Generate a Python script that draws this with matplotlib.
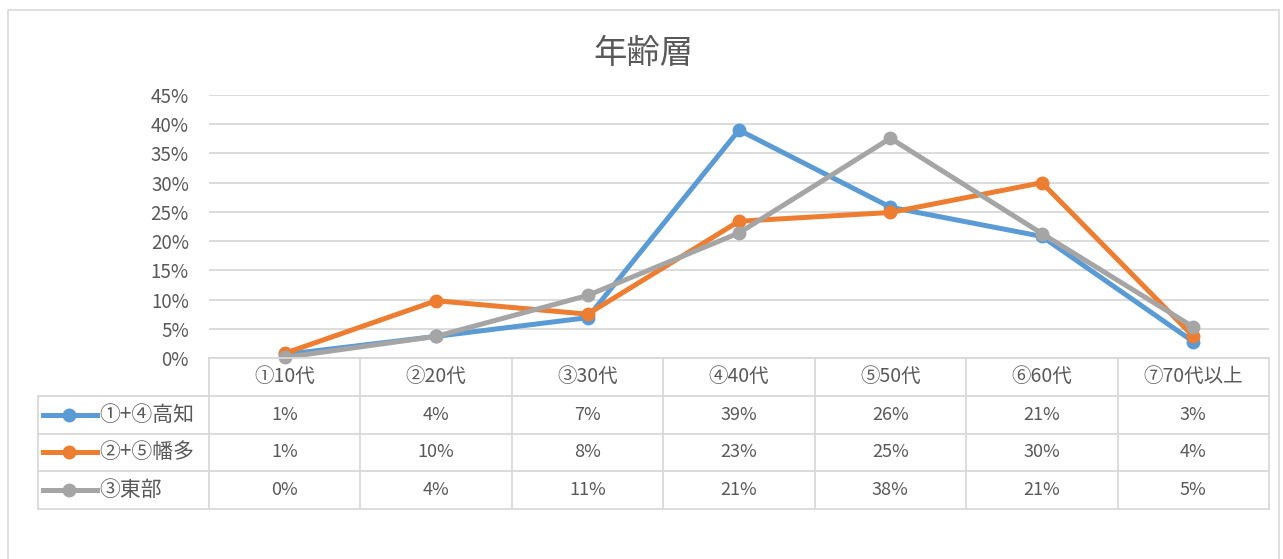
import matplotlib
matplotlib.use("Agg")
import matplotlib.pyplot as plt
from matplotlib.patches import Rectangle

plt.rcParams['font.family'] = ['Noto Sans CJK JP', 'DejaVu Sans']

# ---- data ----
categories = ['①10代', '②20代', '③30代', '④40代', '⑤50代', '⑥60代', '⑦70代以上']
series_names = ['①+④高知', '②+⑤幡多', '③東部']
kochi = [0.6, 3.7, 6.9, 39.0, 25.8, 20.8, 2.8]
hata = [0.8, 9.8, 7.5, 23.4, 24.9, 30.0, 3.7]
tobu = [0.1, 3.7, 10.7, 21.4, 37.6, 21.3, 5.3]
series_values = [kochi, hata, tobu]
colors = ['#5B9BD5', '#ED7D31', '#A5A5A5']
yticks = [0, 5, 10, 15, 20, 25, 30, 35, 40, 45]
title = '年齢層'

W, H = 1283, 559
fig = plt.figure(figsize=(W / 100, H / 100), dpi=100)
TXT = '#595959'
GRID = '#D9D9D9'

def fx(px):
    return px / W

def fy(py):
    return 1 - py / H

# outer chart border
fig.add_artist(Rectangle((fx(8), fy(565)), fx(1279) - fx(8), fy(10) - fy(565),
                         transform=fig.transFigure, fill=False, edgecolor=GRID, lw=1.2))

fig.text(fx(643), fy(54), title, ha='center', va='center', fontsize=24, color=TXT)

# main plot axes
ax = fig.add_axes([fx(209), fy(358), fx(1269) - fx(209), (358 - 95) / H])
ax.set_xlim(-0.5, len(categories) - 0.5)
ax.set_ylim(0, 45)
ax.set_yticks(yticks)
ax.set_yticklabels([f'{t}%' for t in yticks], color=TXT, fontsize=13.5)
ax.tick_params(left=False, bottom=False, labelbottom=False, pad=11)
ax.grid(axis='y', color=GRID, lw=1.3)
ax.set_axisbelow(True)
for s in ax.spines.values():
    s.set_visible(False)
x = list(range(len(categories)))
for vals, c in zip(series_values, colors):
    ax.plot(x, vals, color=c, lw=3.6, marker='o', ms=9, clip_on=False, zorder=3)

# data table
colw = 151.43
left_px = 38
tax = fig.add_axes([fx(left_px), fy(509), fx(1269) - fx(left_px), (509 - 358) / H])
xl = -0.5 - (209 - left_px) / colw
tax.set_xlim(xl, len(categories) - 0.5)
tax.set_ylim(4, 0)
tax.axis('off')

def px2x(px):
    return -0.5 + (px - 209) / colw

lk = dict(color=GRID, lw=1.3, clip_on=False)
tax.plot([-0.5, len(categories) - 0.5], [0, 0], **lk)
for r in range(1, 5):
    tax.plot([xl, len(categories) - 0.5], [r, r], **lk)
tax.plot([xl, xl], [1, 4], **lk)
for i in range(len(categories) + 1):
    tax.plot([i - 0.5, i - 0.5], [0, 4], **lk)

for i, cat in enumerate(categories):
    tax.text(i, 0.5, cat, ha='center', va='center', fontsize=14, color=TXT)
for r, (name, vals, c) in enumerate(zip(series_names, series_values, colors)):
    yy = r + 1.5
    tax.plot([px2x(43), px2x(97)], [yy, yy], color=c, lw=3.6, clip_on=False)
    tax.plot([px2x(69)], [yy], color=c, marker='o', ms=9, clip_on=False)
    tax.text(px2x(99), yy, name, ha='left', va='center', fontsize=15, color=TXT)
    for i, v in enumerate(vals):
        tax.text(i, yy, f'{int(v + 0.5)}%', ha='center', va='center', fontsize=13, color=TXT)

fig.savefig('out.png', dpi=100)
